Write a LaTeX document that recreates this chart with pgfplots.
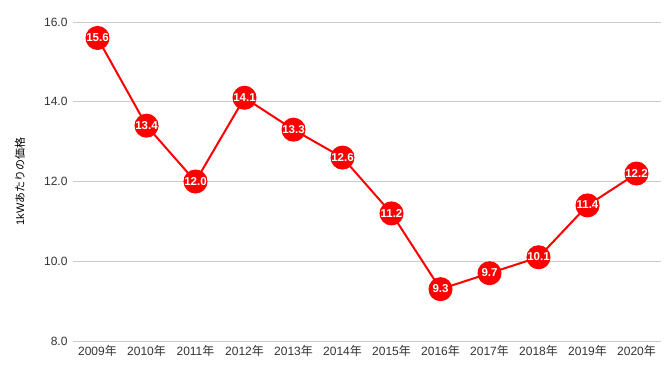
\documentclass[border=0pt]{standalone}
\usepackage{pgfplots}
\pgfplotsset{compat=1.18}
\usepackage{fontspec}
\setmainfont{Liberation Sans}
\newfontfamily\cjk{Noto Sans CJK JP}
\usepackage[copies]{contour}
\contourlength{0.8pt}
\contournumber{10}
\definecolor{gridc}{HTML}{CCCCCC}
\definecolor{tickc}{HTML}{333333}
\begin{document}
\begin{tikzpicture}[x=1bp,y=1bp]
\useasboundingbox (0,0) rectangle (668,369);
\begin{axis}[
  at={(73bp,28bp)}, anchor=south west,
  scale only axis, width=588bp, height=319bp,
  xmin=-0.5, xmax=11.5, ymin=8, ymax=16,
  xtick={0,...,11},
  xticklabels={2009{\cjk 年},2010{\cjk 年},2011{\cjk 年},2012{\cjk 年},2013{\cjk 年},2014{\cjk 年},2015{\cjk 年},2016{\cjk 年},2017{\cjk 年},2018{\cjk 年},2019{\cjk 年},2020{\cjk 年}},
  ytick={8,10,12,14,16},
  yticklabel={\pgfmathprintnumber[fixed,fixed zerofill,precision=1]{\tick}},
  /pgf/number format/assume math mode=true,
  ymajorgrids, major grid style={gridc, line width=0.75bp},
  axis line style={draw=none},
  major tick length=0pt,
  tick label style={font=\fontsize{12bp}{14bp}\selectfont, text=tickc},
  xticklabel style={yshift=-1bp},
  yticklabel style={xshift=-2bp},
  ylabel={1kW{\cjk あたりの価格}},
  ylabel style={font=\fontsize{11bp}{13bp}\selectfont, text=black, at={(rel axis cs:0,0.5)}, anchor=center, yshift=53bp},
  clip=false,
]
\addplot[red, line width=2bp, mark=*, mark size=11bp, mark options={fill=red, draw=red},
  nodes near coords={\contour{red}{\textcolor{white}{\textbf{\pgfmathprintnumber[fixed,fixed zerofill,precision=1]{\pgfplotspointmeta}}}}},
  nodes near coords style={anchor=center, font=\fontsize{11.5bp}{13bp}\selectfont, inner sep=0pt},
  point meta=explicit]
coordinates {
(0,15.6) [15.6]
(1,13.4) [13.4]
(2,12.0) [12.0]
(3,14.1) [14.1]
(4,13.3) [13.3]
(5,12.6) [12.6]
(6,11.2) [11.2]
(7,9.3) [9.3]
(8,9.7) [9.7]
(9,10.1) [10.1]
(10,11.4) [11.4]
(11,12.2) [12.2]
};
\end{axis}
\end{tikzpicture}
\end{document}
